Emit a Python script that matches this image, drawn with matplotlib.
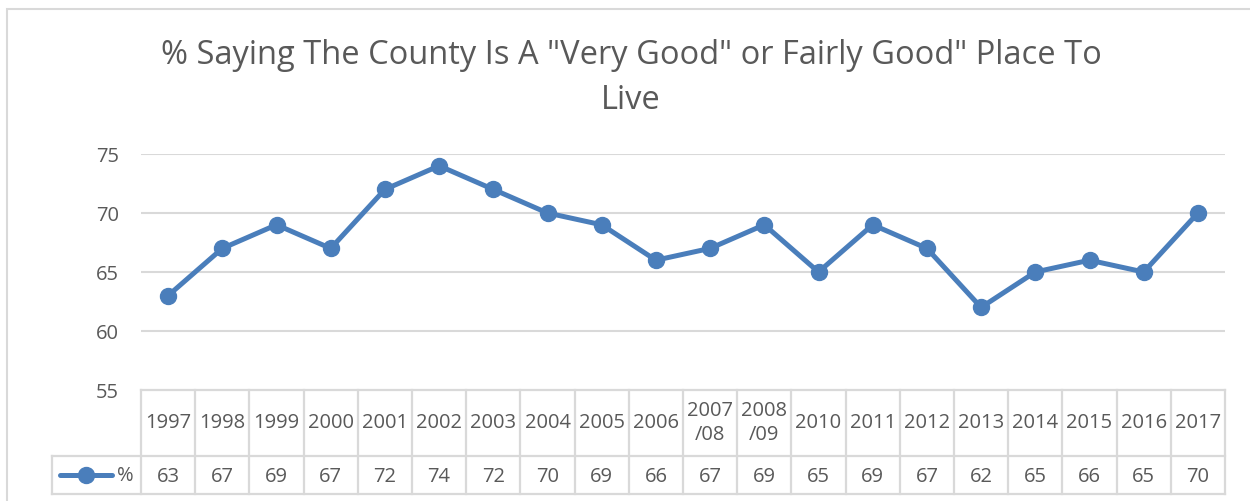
import matplotlib.pyplot as plt
from matplotlib.patches import Rectangle
from matplotlib.lines import Line2D
from matplotlib.transforms import blended_transform_factory

# chart data
years = ['1997', '1998', '1999', '2000', '2001', '2002', '2003', '2004', '2005', '2006',
         '2007\n/08', '2008\n/09', '2010', '2011', '2012', '2013', '2014', '2015', '2016', '2017']
pct = [63, 67, 69, 67, 72, 74, 72, 70, 69, 66, 67, 69, 65, 69, 67, 62, 65, 66, 65, 70]
y_ticks = [55, 60, 65, 70, 75]
series_name = '%'
title = '% Saying The County Is A "Very Good" or Fairly Good" Place To\nLive'

plt.rcParams['font.family'] = ['Open Sans', 'DejaVu Sans']
text_col = '#595959'
grid_col = '#d9d9d9'
line_col = '#4a7ebb'

W, H = 1250, 502
fig = plt.figure(figsize=(W / 100, H / 100), dpi=100)

# outer chart border
fig.patches.append(Rectangle((7 / W, -0.1), 1.2, (H - 10) / H + 0.1, transform=fig.transFigure,
                             fill=False, edgecolor=grid_col, lw=1.5))

left, right, top, bottom = 141, 1225, 155, 391
ax = fig.add_axes([left / W, (H - bottom) / H, (right - left) / W, (bottom - top) / H])

n = len(years)
x = list(range(n))
ax.plot(x, pct, color=line_col, lw=3.6, marker='o', ms=11.5, solid_capstyle='round')
ax.set_xlim(-0.5, n - 0.5)
ax.set_ylim(55, 75)
ax.set_yticks(y_ticks)
ax.set_yticklabels([str(t) for t in y_ticks])
ax.tick_params(axis='y', length=0, pad=16, labelsize=14.5, labelcolor=text_col)
ax.set_xticks([])
for s in ax.spines.values():
    s.set_visible(False)
for t in y_ticks[1:]:
    ax.axhline(t, color=grid_col, lw=1.5, zorder=0)

fig.text(0.505, 1 - 78 / H, title, ha='center', va='center', fontsize=23.5, color=text_col,
         linespacing=1.45)

# data table under the plot
tr = blended_transform_factory(ax.transData, fig.transFigure)
def fy(py):
    return (H - py) / H

row1_top, row1_bot, row2_bot = 391, 457, 495
legend_left = -0.5 - (left - 52) / ((right - left) / n)
kw = dict(color=grid_col, lw=1.6, transform=tr, clip_on=False)
fig.add_artist(Line2D([-0.5, n - 0.5], [fy(row1_top)] * 2, **kw))
fig.add_artist(Line2D([legend_left, n - 0.5], [fy(row1_bot)] * 2, **kw))
fig.add_artist(Line2D([legend_left, n - 0.5], [fy(row2_bot)] * 2, **kw))
fig.add_artist(Line2D([legend_left, legend_left], [fy(row1_bot), fy(row2_bot)], **kw))
for i in range(n + 1):
    fig.add_artist(Line2D([i - 0.5, i - 0.5], [fy(row1_top), fy(row2_bot)], **kw))

for i, (yr, v) in enumerate(zip(years, pct)):
    fig.text(i, fy((row1_top + row1_bot) / 2 - 1), yr, transform=tr, ha='center', va='center',
             fontsize=14.5, color=text_col, linespacing=1.3)
    fig.text(i, fy((row1_bot + row2_bot) / 2 + 1), str(v), transform=tr, ha='center',
             va='center', fontsize=14.5, color=text_col)

# legend key in the table
ky = fy((row1_bot + row2_bot) / 2)
fig.add_artist(Line2D([60 / W, 112 / W], [ky, ky], color=line_col, lw=3.6,
                      solid_capstyle='round', transform=fig.transFigure))
fig.add_artist(Line2D([86 / W], [ky], color=line_col, marker='o', ms=11.5,
                      transform=fig.transFigure))
fig.text(125 / W, ky, series_name, ha='center', va='center', fontsize=14.5, color=text_col)

fig.savefig('out.png', dpi=100)
